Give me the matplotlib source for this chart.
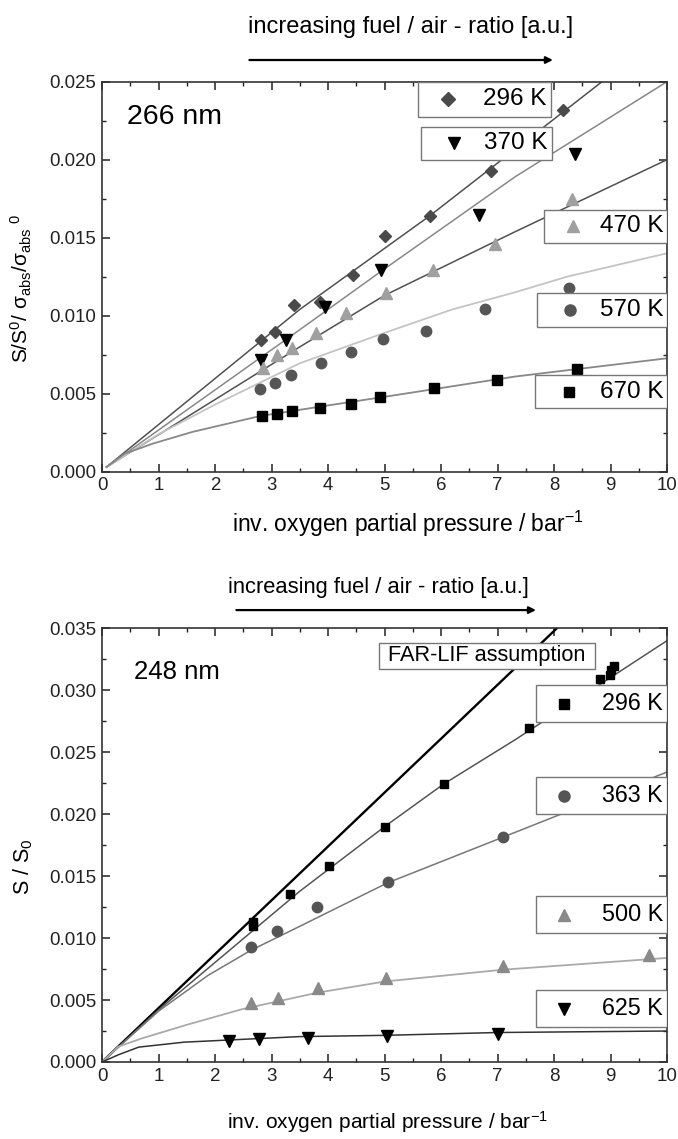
import matplotlib
matplotlib.use("Agg")
import matplotlib.pyplot as plt
from matplotlib.patches import Rectangle
from matplotlib.ticker import MultipleLocator, FormatStrFormatter
from matplotlib import font_manager

names = {f.name for f in font_manager.fontManager.ttflist}
SANS = 'Liberation Sans'
NARROW = 'Liberation Sans Narrow' if 'Liberation Sans Narrow' in names else SANS

plt.rcParams['font.family'] = [SANS, 'DejaVu Sans']
plt.rcParams['mathtext.default'] = 'regular'

# ---- top panel (266 nm) measured points
t296_x = [2.81, 3.06, 3.39, 3.85, 4.44, 5.01, 5.80, 6.88, 8.16]
t296_y = [0.00844, 0.00893, 0.01068, 0.01089, 0.01264, 0.01511, 0.01637, 0.01927, 0.02319]
t370_x = [2.81, 3.25, 3.95, 4.94, 6.67, 8.38]
t370_y = [0.00716, 0.00844, 0.01057, 0.01296, 0.01648, 0.02038]
t470_x = [2.85, 3.09, 3.36, 3.79, 4.32, 5.02, 5.86, 6.96, 8.32]
t470_y = [0.00663, 0.00748, 0.00791, 0.00891, 0.01015, 0.01143, 0.01296, 0.01462, 0.01750]
t570_x = [2.80, 3.06, 3.34, 3.88, 4.40, 4.98, 5.74, 6.78, 8.26]
t570_y = [0.00529, 0.00567, 0.00620, 0.00699, 0.00769, 0.00848, 0.00903, 0.01040, 0.01178]
t670_x = [2.83, 3.09, 3.36, 3.85, 4.40, 4.92, 5.88, 6.99, 8.41]
t670_y = [0.00358, 0.00371, 0.00386, 0.00411, 0.00435, 0.00482, 0.00535, 0.00588, 0.00659]

# fit curves
f296_x = [0.08, 3.5, 5.8, 8.85]
f296_y = [0.0003, 0.0104, 0.0164, 0.025]
f370_x = [0.08, 3.5, 5.0, 7.31, 10]
f370_y = [0.0003, 0.0091, 0.0130, 0.0189, 0.025]
f470_x = [0.08, 3.5, 5.0, 7.31, 10]
f470_y = [0.0003, 0.0080, 0.0113, 0.01538, 0.0200]
f570_x = [0.08, 1.0, 2.0, 3.5, 5.0, 6.2, 7.31, 8.23, 10]
f570_y = [0.0003, 0.0024, 0.0043, 0.00695, 0.0089, 0.0104, 0.0115, 0.0125, 0.0140]
f670_x = [0.08, 0.4, 0.9, 1.6, 2.8, 3.86, 5.0, 7.31, 10]
f670_y = [0.0003, 0.00115, 0.00180, 0.00255, 0.00357, 0.00417, 0.0048, 0.0061, 0.00727]

# ---- bottom panel (248 nm)
b296_x = [2.67, 2.67, 3.33, 4.01, 5.00, 6.06, 7.55, 8.82, 8.99, 9.00, 9.07]
b296_y = [0.01132, 0.01097, 0.01352, 0.01583, 0.01898, 0.02242, 0.02699, 0.03089, 0.03121, 0.03167, 0.03194]
b363_x = [2.63, 3.10, 3.80, 5.06, 7.09]
b363_y = [0.00925, 0.01056, 0.01247, 0.01449, 0.01812]
b500_x = [2.64, 3.11, 3.82, 5.03, 7.09, 9.68]
b500_y = [0.00478, 0.00513, 0.00599, 0.00675, 0.00774, 0.00863]
b625_x = [2.25, 2.77, 3.65, 5.04, 7.01]
b625_y = [0.00169, 0.00183, 0.00196, 0.00212, 0.00223]

far_x = [0, 8.05]
far_y = [0, 0.035]
g296_x = [0, 1.0, 3.5, 5.01, 6.05, 7.31, 10]
g296_y = [0, 0.0042, 0.01378, 0.01902, 0.02244, 0.0260, 0.0340]
g363_x = [0, 1.0, 1.88, 2.63, 3.5, 5.05, 7.09, 10]
g363_y = [0, 0.0041, 0.0070, 0.0090, 0.01095, 0.01445, 0.01813, 0.0234]
g500_x = [0, 0.29, 0.7, 1.5, 2.47, 3.82, 5.01, 7.10, 10]
g500_y = [0, 0.00124, 0.0019, 0.0030, 0.00425, 0.0056, 0.0065, 0.00745, 0.0084]
g625_x = [0, 0.3, 0.65, 1.45, 3.5, 5.0, 7.0, 10]
g625_y = [0, 0.0006, 0.0012, 0.0016, 0.00205, 0.00215, 0.00238, 0.0025]

fig = plt.figure(figsize=(6.78, 11.39), dpi=100)
ax1 = fig.add_axes([102/678, 1 - 471.7/1139, 565/678, 390/1139])
ax2 = fig.add_axes([102/678, 1 - 1062/1139, 565/678, 433.7/1139])


def style_axes(ax, ymax, fam, fs):
    ax.set_xlim(0, 10)
    ax.set_ylim(0, ymax)
    ax.xaxis.set_major_locator(MultipleLocator(1))
    ax.xaxis.set_minor_locator(MultipleLocator(0.5))
    ax.yaxis.set_major_locator(MultipleLocator(0.005))
    ax.yaxis.set_minor_locator(MultipleLocator(0.0025))
    ax.yaxis.set_major_formatter(FormatStrFormatter('%.3f'))
    ax.tick_params(which='both', direction='in', top=True, right=True, colors='#222222')
    ax.tick_params(which='major', length=6, width=1.1, labelsize=fs, pad=4)
    ax.tick_params(which='minor', length=3, width=1.0)
    for lab in ax.get_xticklabels() + ax.get_yticklabels():
        lab.set_family(fam)
    for s in ax.spines.values():
        s.set_linewidth(1.2)
        s.set_color('#333333')


def box(ax, x0, x1, y0, y1):
    ax.add_patch(Rectangle((x0, y0), x1 - x0, y1 - y0, facecolor='white',
                           edgecolor='#777777', lw=1.0, zorder=5))


def key(ax, x0, x1, y0, y1, mx, marker, color, ms, label, fam, fs):
    box(ax, x0, x1, y0, y1)
    yc = (y0 + y1) / 2
    ax.plot([mx], [yc], marker=marker, color=color, ms=ms, ls='none', zorder=6, clip_on=False)
    ax.text(x1 - 0.07, yc, label, ha='right', va='center', fontsize=fs,
            family=fam, zorder=6)


# ---------------- top panel
ax = ax1
style_axes(ax, 0.025, SANS, 13.4)
ax.plot(f296_x, f296_y, color='#505050', lw=1.1, zorder=2)
ax.plot(f370_x, f370_y, color='#888888', lw=1.1, zorder=2)
ax.plot(f470_x, f470_y, color='#505050', lw=1.1, zorder=2)
ax.plot(f570_x, f570_y, color='#c4c4c4', lw=1.3, zorder=2)
ax.plot(f670_x, f670_y, color='#888888', lw=1.3, zorder=2)
ax.plot(t296_x, t296_y, 'D', color='#4a4a4a', ms=6.5, ls='none', zorder=3)
ax.plot(t370_x, t370_y, 'v', color='black', ms=8, ls='none', zorder=3)
ax.plot(t470_x, t470_y, '^', color='#a0a0a0', ms=8, ls='none', zorder=3)
ax.plot(t570_x, t570_y, 'o', color='#555555', ms=7.5, ls='none', zorder=3)
ax.plot(t670_x, t670_y, 's', color='black', ms=6.5, ls='none', zorder=3)

key(ax, 5.60, 7.94, 0.02276, 0.0250, 6.12, 'D', '#4a4a4a', 7, '296 K', SANS, 17.5)
key(ax, 5.64, 7.96, 0.02001, 0.02212, 6.23, 'v', 'black', 8.5, '370 K', SANS, 17.5)
key(ax, 7.83, 10.0, 0.01469, 0.0168, 8.34, '^', '#a0a0a0', 8.5, '470 K', SANS, 17.5)
key(ax, 7.70, 10.0, 0.00925, 0.01143, 8.28, 'o', '#555555', 8, '570 K', SANS, 17.5)
key(ax, 7.67, 10.0, 0.00407, 0.0062, 8.26, 's', 'black', 7, '670 K', SANS, 17.5)

ax.text(0.44, 0.02274, '266 nm', fontsize=20.5, ha='left', va='center')
ax.annotate('', xy=(8.03, 1.0556), xytext=(2.56, 1.0556),
            xycoords=('data', 'axes fraction'), annotation_clip=False,
            arrowprops=dict(arrowstyle='-|>', lw=1.6, color='black', mutation_scale=10))
ax.text(5.47, 1.140, 'increasing fuel / air - ratio [a.u.]', fontsize=17,
        ha='center', va='center', transform=ax.get_xaxis_transform())
ax.set_xlabel('inv. oxygen partial pressure / bar$^{-1}$', fontsize=16.5)
ax.xaxis.set_label_coords(0.542, -0.095)
ax.set_ylabel('S/S$^0$/ σ$_{abs}$/σ$_{abs}$$^{\\ 0}$', fontsize=15)
ax.yaxis.set_label_coords(-0.12, 0.47)

# ---------------- bottom panel
ax = ax2
style_axes(ax, 0.035, NARROW, 13.5)
ax.plot(far_x, far_y, color='black', lw=1.7, zorder=2)
ax.plot(g296_x, g296_y, color='#555555', lw=1.1, zorder=2)
ax.plot(g363_x, g363_y, color='#777777', lw=1.1, zorder=2)
ax.plot(g500_x, g500_y, color='#aaaaaa', lw=1.3, zorder=2)
ax.plot(g625_x, g625_y, color='#333333', lw=1.1, zorder=2)
ax.plot(b296_x, b296_y, 's', color='black', ms=6, ls='none', zorder=3)
ax.plot(b363_x, b363_y, 'o', color='#555555', ms=7.5, ls='none', zorder=3)
ax.plot(b500_x, b500_y, '^', color='#8a8a8a', ms=8, ls='none', zorder=3)
ax.plot(b625_x, b625_y, 'v', color='black', ms=8, ls='none', zorder=3)

box(ax, 4.90, 8.73, 0.03175, 0.03382)
ax.text(6.81, 0.03278, 'FAR-LIF assumption', ha='center', va='center',
        fontsize=15.7, family=NARROW, zorder=6)
key(ax, 7.68, 10.0, 0.0274, 0.0304, 8.18, 's', 'black', 7, '296 K', NARROW, 16.8)
key(ax, 7.68, 10.0, 0.0200, 0.02296, 8.18, 'o', '#555555', 8, '363 K', NARROW, 16.8)
key(ax, 7.68, 10.0, 0.01038, 0.01339, 8.18, '^', '#8a8a8a', 8.5, '500 K', NARROW, 16.8)
key(ax, 7.68, 10.0, 0.0028, 0.00581, 8.18, 'v', 'black', 8.5, '625 K', NARROW, 16.8)

ax.text(0.56, 0.03147, '248 nm', fontsize=18.5, ha='left', va='center', family=NARROW)
ax.annotate('', xy=(7.73, 1.042), xytext=(2.33, 1.042),
            xycoords=('data', 'axes fraction'), annotation_clip=False,
            arrowprops=dict(arrowstyle='-|>', lw=1.6, color='black', mutation_scale=10))
ax.text(4.9, 1.095, 'increasing fuel / air - ratio [a.u.]', fontsize=15.8, family=NARROW,
        ha='center', va='center', transform=ax.get_xaxis_transform())
ax.set_xlabel('inv. oxygen partial pressure / bar$^{-1}$', fontsize=15, family=NARROW)
ax.xaxis.set_label_coords(0.505, -0.108)
ax.set_ylabel('S / S$_0$', fontsize=15.5, family=NARROW)
ax.yaxis.set_label_coords(-0.118, 0.45)

fig.savefig('out.png', dpi=100)
